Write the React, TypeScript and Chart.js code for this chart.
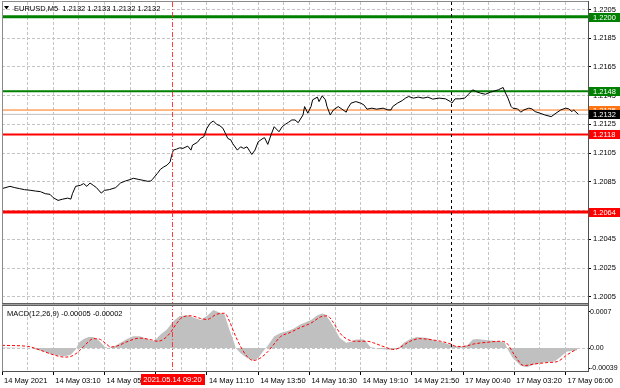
import React, { useEffect, useRef } from 'react';
import { Chart, registerables } from 'chart.js';

Chart.register(...registerables);

// ---------- data ----------
const symbolTitle = 'EURUSD,M5  1.2132 1.2133 1.2132 1.2132';
const macdTitle = 'MACD(12,26,9) -0.00005 -0.00002';

// bar index (5-minute bars from the left edge) and close price
const priceBars = [0, 5, 8, 11, 14, 18, 21, 24, 27, 30, 32, 35, 38, 41, 43, 44, 46, 49, 51, 53, 55, 57, 59, 62, 64, 67, 71, 74, 77, 80, 82, 85, 88, 91, 93, 94, 97, 99, 101, 103, 105, 106, 107, 109, 111, 113, 116, 118, 119, 122, 124, 126, 128, 130, 132, 134, 136, 138, 141, 143, 144, 147, 149, 151, 153, 155, 156, 158, 160, 163, 164, 166, 168, 170, 173, 175, 177, 179, 181, 183, 185, 188, 189, 191, 193, 194, 197, 198, 200, 202, 203, 205, 207, 210, 213, 215, 216, 218, 221, 224, 226, 228, 231, 234, 238, 241, 243, 244, 247, 250, 252, 254, 257, 260, 263, 266, 269, 273, 277, 280, 281, 283, 286, 289, 291, 294, 296, 299, 302, 305, 308, 310, 313, 314, 316, 318, 319, 322, 324, 326, 329, 331, 333, 336, 339, 343, 346, 349, 352, 354, 356, 357, 360];
const priceCloses = [1.20803, 1.20819, 1.2081, 1.20803, 1.20796, 1.20791, 1.20786, 1.20782, 1.20768, 1.20763, 1.2074, 1.20721, 1.2073, 1.20737, 1.2073, 1.20768, 1.20819, 1.20826, 1.20838, 1.20819, 1.20842, 1.20826, 1.2081, 1.20772, 1.20791, 1.20796, 1.2081, 1.20842, 1.20856, 1.20866, 1.20875, 1.20868, 1.20861, 1.20854, 1.20856, 1.20868, 1.20908, 1.20938, 1.20954, 1.20966, 1.20989, 1.21036, 1.21071, 1.21078, 1.21087, 1.21083, 1.21099, 1.21071, 1.21106, 1.21125, 1.21153, 1.21164, 1.21223, 1.21258, 1.21274, 1.21251, 1.21241, 1.21223, 1.21153, 1.21141, 1.21118, 1.21071, 1.21094, 1.21083, 1.21094, 1.21059, 1.21041, 1.21071, 1.21129, 1.21153, 1.21157, 1.21111, 1.21176, 1.21234, 1.21199, 1.21234, 1.21251, 1.21265, 1.21281, 1.21281, 1.21262, 1.21316, 1.21374, 1.21328, 1.21374, 1.21421, 1.2144, 1.21409, 1.21449, 1.21421, 1.21374, 1.21316, 1.21351, 1.21374, 1.21351, 1.21335, 1.21363, 1.21398, 1.21409, 1.21398, 1.21386, 1.21356, 1.21363, 1.21356, 1.21363, 1.21351, 1.21351, 1.21374, 1.21398, 1.21416, 1.21433, 1.21444, 1.21433, 1.2144, 1.21433, 1.2144, 1.21426, 1.21433, 1.21428, 1.21409, 1.21398, 1.21428, 1.21428, 1.21433, 1.21456, 1.21491, 1.21479, 1.21467, 1.2146, 1.21474, 1.21484, 1.21491, 1.21507, 1.21479, 1.21433, 1.21374, 1.21363, 1.21358, 1.21335, 1.21351, 1.21363, 1.21358, 1.21339, 1.21328, 1.21316, 1.21304, 1.21328, 1.21351, 1.21363, 1.21358, 1.21339, 1.21351, 1.2132];

// MACD main (histogram)
const histBars = [0, 18, 20, 26, 32, 39, 43, 46, 48, 51, 54, 57, 60, 64, 66, 70, 74, 78, 82, 86, 91, 94, 96, 99, 103, 107, 111, 116, 120, 124, 128, 132, 135, 139, 142, 145, 146, 149, 153, 157, 160, 163, 166, 170, 174, 178, 182, 186, 193, 197, 200, 202, 205, 208, 211, 215, 219, 221, 226, 228, 230, 236, 243, 247, 251, 255, 259, 266, 270, 276, 282, 286, 291, 294, 297, 303, 311, 314, 316, 319, 324, 328, 332, 338, 345, 348, 353, 359];
const histValues = [0.00001, 0, -0.00002, -0.000065, -0.00013, -0.00016, -0.00013, -0.00003, 0.0001, 0.000175, 0.00021, 0.000214, 0.00016, 0.00003, 0, 0.00003, 0.0001, 0.000175, 0.000227, 0.000227, 0.000175, 0.00013, 0.000162, 0.00026, 0.000356, 0.000518, 0.000616, 0.000629, 0.000583, 0.000538, 0.000616, 0.000732, 0.000693, 0.000648, 0.000356, 0.0001, 0, -0.0001, -0.000194, -0.00024, -0.000194, -0.000065, 0.000045, 0.000227, 0.00029, 0.000324, 0.000369, 0.00045, 0.00054, 0.000629, 0.000667, 0.000648, 0.000518, 0.000356, 0.000194, 0.0001, 0.00013, 0.000162, 0.000162, 0.0001, 0.00002, -0.00002, -0.000032, -0.00002, 0.0001, 0.000175, 0.00021, 0.000194, 0.00015, 0.0001, 0.000045, 0.00002, 0.000065, 0.000162, 0.000175, 0.00015, 0.00013, 0.0001, -0.000032, -0.000194, -0.000343, -0.000369, -0.000324, -0.000279, -0.000259, -0.000194, -0.000065, -0.00005];

// MACD signal
const signalBars = [0, 16, 18, 26, 32, 39, 43, 47, 51, 54, 57, 61, 65, 68, 72, 78, 86, 93, 97, 101, 105, 109, 113, 118, 124, 128, 134, 139, 142, 145, 149, 153, 157, 161, 166, 170, 174, 180, 186, 193, 199, 203, 207, 211, 215, 220, 228, 232, 239, 245, 249, 255, 261, 268, 274, 280, 284, 288, 295, 303, 311, 315, 320, 326, 332, 341, 347, 353, 359];
const signalValues = [0.000052, 0.000032, 0.00002, -0.000065, -0.00013, -0.000175, -0.000162, -0.00009, 0.00003, 0.00012, 0.00018, 0.00017, 0.00008, 0.00002, 0.00004, 0.00012, 0.00019, 0.00016, 0.00013, 0.00017, 0.00029, 0.00047, 0.0006, 0.00062, 0.00057, 0.00055, 0.00065, 0.00067, 0.00052, 0.00029, 0.00003, -0.00016, -0.00024, -0.0002, -0.00007, 0.00008, 0.00022, 0.0003, 0.00039, 0.00048, 0.0006, 0.00062, 0.00049, 0.00029, 0.00018, 0.00013, 0.00013, 0.0001, 0.00002, -0.00003, 0.00002, 0.00013, 0.00018, 0.00016, 0.00013, 0.00008, 0.00003, 0.00003, 0.00008, 0.00011, 0.00013, 0.0001, -0.00013, -0.00034, -0.00031, -0.00028, -0.00026, -0.00013, -0.00002];

// time axis labels, one every 32 bars
const timeLabels = ['14 May 2021', '14 May 03:10', '14 May 05:50', '', '14 May 11:10', '14 May 13:50', '14 May 16:30', '14 May 19:10', '14 May 21:50', '17 May 00:40', '17 May 03:20', '17 May 06:00'];
const barsPerLabel = 32;
const barsPerGrid = 16;
const barCount = 366;

const priceTicks = [1.2005, 1.2025, 1.2045, 1.2065, 1.2085, 1.2105, 1.2125, 1.2145, 1.2165, 1.2185, 1.2205];
const priceMin = 1.2;
const priceMax = 1.22102;
const macdTicks = [0.0007, 0, -0.00039];
const macdTickLabels = ['0.0007', '0.00', '-0.00039'];
const macdMin = -0.000443;
const macdMax = 0.000848;

const levelPrices = [1.22, 1.2148, 1.2135, 1.2118, 1.2064];
const levelLabels = ['1.2200', '1.2148', '1.2135', '1.2118', '1.2064'];
const levelColors = ['#008000', '#008000', '#ff7414', '#ff0000', '#ff0000'];
const levelWidths = [3, 2, 1, 2, 3];
const bidPrice = 1.2132;
const bidLabel = '1.2132';

const cursorBar = 106;
const cursorLabel = '2021.05.14 09:20';
const daySeparatorBar = 280.6;

// ---------- chart ----------
const FAMILY = '"Liberation Sans", Arial, sans-serif';
const FSIZE = 7.5;
const FONT = { family: FAMILY, size: FSIZE };
const MACD_FONT = { family: FAMILY, size: 7 };
const GRID = '#c4c4c4';

const pts = (xs: number[], ys: number[]) => xs.map((x, i) => ({ x, y: ys[i] }));

const overlay = {
  id: 'overlay',
  afterDraw(chart: any) {
    const { ctx, chartArea: a, scales } = chart;
    const x = scales.x, y = scales.y, y2 = scales.y2;
    const W = chart.width;
    ctx.save();

    // vertical cursor (dash-dot red) and day separator (dashed black)
    const cx = Math.round(x.getPixelForValue(cursorBar)) + 0.5;
    ctx.lineWidth = 1;
    ctx.strokeStyle = 'rgba(255,40,40,0.9)';
    ctx.setLineDash([5, 2, 1, 2]);
    ctx.beginPath(); ctx.moveTo(cx, a.top); ctx.lineTo(cx, a.bottom); ctx.stroke();
    const sx = Math.round(x.getPixelForValue(daySeparatorBar)) + 0.5;
    ctx.strokeStyle = '#000';
    ctx.setLineDash([3, 3]);
    ctx.beginPath(); ctx.moveTo(sx, a.top); ctx.lineTo(sx, a.bottom); ctx.stroke();
    ctx.setLineDash([]);

    // frame and pane separator
    ctx.fillStyle = '#8a8a8a';
    ctx.fillRect(a.left, 1, 1, a.bottom - 1);
    ctx.fillRect(a.left, 1, a.right - a.left, 1);
    ctx.fillStyle = '#505050';
    ctx.fillRect(a.right, 1, 1, a.bottom);
    ctx.fillRect(a.left, a.bottom, a.right - a.left + 1, 1);
    const sepY = Math.round(y.bottom);
    ctx.fillStyle = '#a0a0a0';
    ctx.fillRect(a.left, sepY - 1, a.right - a.left, 3);
    ctx.fillStyle = '#606060';
    ctx.fillRect(a.left, sepY - 1, a.right - a.left, 1);
    ctx.fillRect(a.left, sepY + 1, a.right - a.left, 1);

    // price labels on the axis
    ctx.font = `${FSIZE}px ${FAMILY}`;
    ctx.textBaseline = 'middle';
    ctx.textAlign = 'left';
    const box = (price: number, label: string, bg: string) => {
      const py = Math.round(y.getPixelForValue(price));
      ctx.fillStyle = bg;
      ctx.fillRect(a.right + 1, py - 4, W - a.right - 1, 9);
      ctx.fillStyle = '#fff';
      ctx.fillText(label, a.right + 5, py + 0.5);
    };
    levelPrices.forEach((p, i) => box(p, levelLabels[i], levelColors[i]));
    box(bidPrice, bidLabel, '#000');

    // header texts
    ctx.fillStyle = '#000';
    ctx.beginPath();
    ctx.moveTo(4, 6); ctx.lineTo(9, 6); ctx.lineTo(6.5, 9.5); ctx.closePath(); ctx.fill();
    ctx.fillText(symbolTitle, 14, 8.5);
    ctx.fillText(macdTitle, 7, y2.top + 10);

    // cursor time label
    const tw = ctx.measureText(cursorLabel).width;
    const bw = Math.round(tw + 6);
    const bx = Math.round(cx - bw / 2);
    ctx.fillStyle = '#ff0000';
    ctx.fillRect(bx, a.bottom + 3, bw, 11);
    ctx.fillStyle = '#fff';
    ctx.textAlign = 'center';
    ctx.fillText(cursorLabel, cx, a.bottom + 9);
    ctx.restore();
  },
};

export default function App() {
  const ref = useRef<HTMLCanvasElement | null>(null);
  useEffect(() => {
    if (!ref.current) return;
    const levelSets = levelPrices.map((p, i) => ({
      type: 'line',
      data: [{ x: 0, y: p }, { x: barCount, y: p }],
      yAxisID: 'y',
      borderColor: levelColors[i],
      borderWidth: levelWidths[i],
      pointRadius: 0,
    }));
    const chart = new Chart(ref.current, {
      type: 'line',
      data: {
        datasets: [
          { type: 'line', data: pts(priceBars, priceCloses), yAxisID: 'y', borderColor: '#000', borderWidth: 1, pointRadius: 0, tension: 0 },
          { type: 'line', data: pts(signalBars, signalValues), yAxisID: 'y2', borderColor: '#ff0000', borderWidth: 1, borderDash: [3, 2], pointRadius: 0, cubicInterpolationMode: 'monotone' },
          { type: 'line', data: pts(histBars, histValues), yAxisID: 'y2', borderColor: 'rgba(0,0,0,0)', borderWidth: 1, backgroundColor: '#c0c0c0', fill: 'origin', pointRadius: 0 },
          ...levelSets,
          { type: 'line', data: [{ x: 0, y: bidPrice }, { x: barCount, y: bidPrice }], yAxisID: 'y', borderColor: '#c0c0c0', borderWidth: 1, pointRadius: 0 },
        ] as any,
      },
      options: {
        responsive: false,
        animation: false,
        devicePixelRatio: 1,
        events: [],
        layout: { padding: { left: 2, top: 2, right: 0, bottom: 0 } },
        plugins: { legend: { display: false }, tooltip: { enabled: false } },
        scales: {
          x: {
            type: 'linear',
            min: 0,
            max: barCount,
            afterBuildTicks: (s: any) => {
              const t = [];
              for (let v = 0; v <= (timeLabels.length - 1) * barsPerLabel; v += barsPerGrid) t.push({ value: v });
              s.ticks = t;
            },
            ticks: {
              autoSkip: false, maxRotation: 0, minRotation: 0, align: 'start', labelOffset: 2, padding: 1,
              font: FONT, color: '#000',
              callback: (_v: any, i: number) => (i % 2 === 0 ? timeLabels[i / 2] ?? '' : ''),
            },
            grid: {
              color: GRID, lineWidth: 1, drawTicks: true, tickLength: 4,
              tickColor: (c: any) => (c.index % 2 === 0 ? '#000' : 'rgba(0,0,0,0)'), tickBorderDash: [],
            },
            border: { display: false, dash: [3, 2] },
            afterFit: (s: any) => { s.height = 17; s.paddingLeft = 0; s.paddingRight = 0; },
          },
          y: {
            type: 'linear', position: 'right', stack: 'panes', stackWeight: 302,
            min: priceMin, max: priceMax,
            afterBuildTicks: (s: any) => { s.ticks = priceTicks.map((v) => ({ value: v })); },
            ticks: { autoSkip: false, font: FONT, color: '#000', padding: 2, crossAlign: 'near', callback: (v: any) => Number(v).toFixed(4) },
            grid: { color: GRID, lineWidth: 1, tickLength: 3, tickColor: '#000', tickBorderDash: [] },
            border: { display: false, dash: [3, 2] },
            afterFit: (s: any) => { s.width = 32; s.paddingTop = 0; s.paddingBottom = 0; },
          },
          y2: {
            type: 'linear', position: 'right', stack: 'panes', stackWeight: 67,
            min: macdMin, max: macdMax,
            afterBuildTicks: (s: any) => { s.ticks = macdTicks.map((v) => ({ value: v })); },
            ticks: {
              autoSkip: false, font: MACD_FONT, color: '#000', padding: 0, crossAlign: 'near',
              callback: (_v: any, i: number) => macdTickLabels[i],
            },
            grid: {
              color: (c: any) => (c.tick && c.tick.value === 0 ? GRID : 'rgba(0,0,0,0)'),
              lineWidth: 1, tickLength: 2, tickColor: '#000', tickBorderDash: [],
            },
            border: { display: false, dash: [3, 2] },
            afterFit: (s: any) => { s.width = 32; s.paddingTop = 0; s.paddingBottom = 0; },
          },
        },
      } as any,
      plugins: [overlay],
    });
    return () => chart.destroy();
  }, []);

  return (
    <div style={{ position: 'fixed', left: 0, top: 0, width: 620, height: 388, background: '#fff' }}>
      <canvas ref={ref} width={620} height={388} style={{ width: 620, height: 388, display: 'block' }} />
    </div>
  );
}
